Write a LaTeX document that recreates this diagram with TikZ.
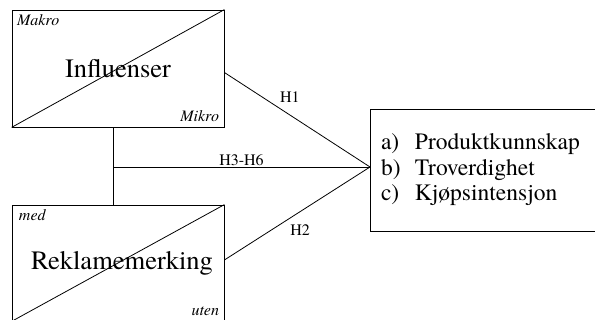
\documentclass[tikz,border=0pt]{standalone}
\usepackage{fontspec}
\setmainfont{TeX Gyre Termes}
\begin{document}
\begin{tikzpicture}[x=1pt, y=-1pt, line width=0.8pt,
    boks/.style={draw, minimum width=212pt, minimum height=117pt, inner sep=0pt, font=\fontsize{26.5}{30}\selectfont},
    hjorne/.style={inner sep=5pt, font=\fontsize{16}{18}\selectfont\itshape},
    hyp/.style={font=\fontsize{16}{18}\selectfont}]
    \useasboundingbox (0,0) rectangle (595,320);
    \clip (0,0) rectangle (595,320);
    \node(infl) [boks] at (118,68.5) {Influenser};
    \node(rekl) [boks, minimum height=116pt] at (118,263) {\hspace*{8pt}Reklamemerking};
    \node(utfall) [draw, minimum width=227pt, minimum height=122pt, text width=205pt, inner xsep=11pt, align=left,
        font=\fontsize{23.5}{25.5}\selectfont] at (483.5,170)
        {\makebox[34pt][l]{a)}Produktkunnskap\\ \makebox[34pt][l]{b)}Troverdighet\\ \makebox[34pt][l]{c)}Kjøpsintensjon};
    \draw (infl.south west) -- (infl.north east);
    \draw (rekl.south west) -- (rekl.north east);
    \node(makro) [hjorne, anchor=north west] at (infl.north west) {Makro};
    \node(mikro) [hjorne, anchor=south east] at (infl.south east) {Mikro};
    \node(med) [hjorne, anchor=north west, xshift=2pt] at (rekl.north west) {med};
    \node(uten) [hjorne, anchor=south east] at (rekl.south east) {uten};
    \coordinate(m) at (370,167);
    \coordinate(j) at (113,167);
    \draw ([yshift=-4pt]infl.east) to node [hyp, pos=0.45, above=9pt] {H1} (m);
    \draw ([yshift=3pt]rekl.east) to node [hyp, pos=0.52, below=9pt] {H2} (m);
    \draw ([xshift=-5pt]infl.south) -- ([xshift=-5pt]rekl.north);
    \draw (j) to node [hyp, above, inner sep=1pt] {H3-H6} (m);
\end{tikzpicture}
\end{document}
